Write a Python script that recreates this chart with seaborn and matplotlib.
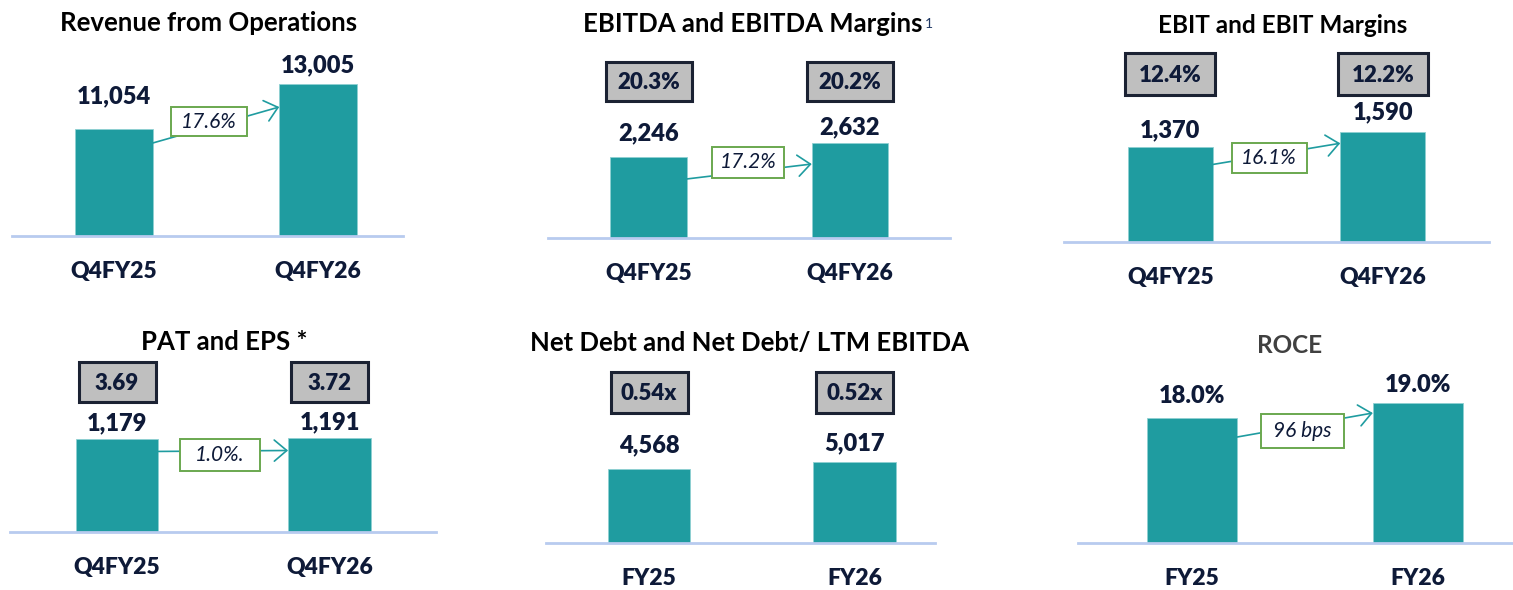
import matplotlib
matplotlib.use('Agg')
import matplotlib.pyplot as plt
import matplotlib.patches as mpatches
import seaborn as sns
import pandas as pd

# ---- data ----
periods_q = ['Q4FY25', 'Q4FY26']
periods_fy = ['FY25', 'FY26']

revenue = [11054, 13005]
revenue_growth = '17.6%'

ebitda = [2246, 2632]
ebitda_margin = ['20.3%', '20.2%']
ebitda_growth = '17.2%'

ebit = [1370, 1590]
ebit_margin = ['12.4%', '12.2%']
ebit_growth = '16.1%'

pat = [1179, 1191]
eps = ['3.69', '3.72']
pat_growth = '1.0%.'

net_debt = [4568, 5017]
net_debt_ratio = ['0.54x', '0.52x']

roce = [18.0, 19.0]
roce_growth = '96 bps'

# ---- style ----
TEAL = '#1F9CA0'
AXIS = '#B8CBEF'
NAVY = '#0E1A38'
GREEN = '#6AA84F'
BOXGREY = '#BFBFBF'
W, H = 1513, 590
PT = 72 / 100  # pixels -> points

sns.set_theme(style='white')
plt.rcParams['font.family'] = ['Lato', 'DejaVu Sans']

fig = plt.figure(figsize=(W / 100, H / 100), dpi=100)


def fig_text(x, y, s, **kw):
    # x, y in pixels measured from the top-left corner
    return fig.text(x / W, 1 - y / H, s, **kw)


def fig_rect(cx, cy, w, h, **kw):
    r = mpatches.Rectangle(((cx - w / 2) / W, 1 - (cy + h / 2) / H), w / W, h / H,
                           transform=fig.transFigure, **kw)
    fig.add_artist(r)


def panel(cats, vals, labels, title, title_xy, box, centers, bar_w, ylim, ticks, gaps,
          tops=None, top_y=None, top_wh=None, growth=None, arrow_dy=None,
          gbox_off=(0, 0), gbox_wh=(76, 30), title_color='black', title_size=18.5):
    l, r, base, top = box
    ax = fig.add_axes([l / W, 1 - base / H, (r - l) / W, (base - top) / H])
    df = pd.DataFrame({'period': cats, 'value': vals})
    sns.barplot(data=df, x='period', y='value', color=TEAL, saturation=1, width=bar_w,
                edgecolor='#8FD0D2', linewidth=0.6, ax=ax)
    c0, c1 = centers
    ax.set_xlim((l - c0) / (c1 - c0), (r - c0) / (c1 - c0))
    ax.set_ylim(*ylim)
    ax.set_xlabel('')
    ax.set_ylabel('')
    ax.set_yticks([])
    for s in ['left', 'right', 'top']:
        ax.spines[s].set_visible(False)
    ax.spines['bottom'].set_color(AXIS)
    ax.spines['bottom'].set_linewidth(2)
    ax.set_xticks([0, 1])
    ax.set_xticklabels(cats, fontsize=16.5, fontweight='heavy', color=NAVY)
    ax.tick_params(axis='x', which='major', length=0, pad=18)
    ax.set_xticks(ticks, minor=True)
    ax.tick_params(axis='x', which='minor', length=6, width=2, color=AXIS, direction='out')
    ax.patch.set_alpha(0)

    bars = ax.patches[:2]
    # value labels on top of bars
    for p, lab, g in zip(bars, labels, gaps):
        ax.annotate(lab, (p.get_x() + p.get_width() / 2, p.get_height()),
                    xytext=(0, g * PT), textcoords='offset points', ha='center',
                    va='baseline', fontsize=17, fontweight='heavy', color=NAVY)

    # grey boxes (margins / EPS / leverage)
    if tops is not None:
        for p, t in zip(bars, tops):
            cx = ax.transData.transform((p.get_x() + p.get_width() / 2, 0))[0]
            fig_rect(cx, top_y, top_wh[0], top_wh[1], facecolor=BOXGREY,
                     edgecolor='#1B2233', linewidth=2.2, zorder=3)
            fig_text(cx, top_y + 1, t, ha='center', va='center', fontsize=16,
                     fontweight='heavy', color=NAVY, zorder=4)

    # growth arrow with boxed label
    if growth is not None:
        p0, p1 = bars
        xa, ya = ax.transData.transform((p0.get_x() + p0.get_width(), p0.get_height()))
        xb, yb = ax.transData.transform((p1.get_x(), p1.get_height()))
        ya -= arrow_dy[0]
        yb -= arrow_dy[1]
        arr = mpatches.FancyArrowPatch((xa / W, ya / H), (xb / W, yb / H),
                                       transform=fig.transFigure,
                                       arrowstyle='->,head_length=0.45,head_width=0.38',
                                       mutation_scale=20, color=TEAL, lw=1.2,
                                       shrinkA=0, shrinkB=0, zorder=3)
        fig.add_artist(arr)
        mx = (xa + xb) / 2 + gbox_off[0]
        my = H - (ya + yb) / 2 + gbox_off[1]
        fig_rect(mx, my, gbox_wh[0], gbox_wh[1], facecolor='white', edgecolor=GREEN,
                 linewidth=1.4, zorder=4)
        fig_text(mx, my, growth, ha='center', va='center', fontsize=15, style='italic',
                 color=NAVY, zorder=5)

    t = fig_text(title_xy[0], title_xy[1], title, ha='center', va='baseline',
                 fontsize=title_size, fontweight='bold', color=title_color)
    return ax, t


fmt = lambda v: f'{v:,}'

panel(periods_q, revenue, [fmt(v) for v in revenue], 'Revenue from Operations', (209, 31),
      (12, 403, 236, 0), (114, 318), 0.38, (6416, 16646), [-0.5, 0.5], [26, 12],
      growth=revenue_growth, arrow_dy=(14, 23), gbox_off=(-7, -3), gbox_wh=(76, 29))

_, t2 = panel(periods_q, ebitda, [fmt(v) for v in ebitda], 'EBITDA and EBITDA Margins',
              (753, 32), (548, 950, 238, 0), (648.5, 850), 0.38, (0, 6596), [], [17, 9],
              tops=ebitda_margin, top_y=81.5, top_wh=(86, 39),
              growth=ebitda_growth, arrow_dy=(22, 21), gbox_off=(-1.5, -9), gbox_wh=(72, 31))
# footnote marker after the EBITDA title
bb = t2.get_window_extent(fig.canvas.get_renderer())
fig_text(bb.x1 + 2, 28, '1', ha='left', va='baseline', fontsize=10, color='#1F3864')

panel(periods_q, ebit, [fmt(v) for v in ebit], 'EBIT and EBIT Margins', (1283, 33),
      (1064, 1489, 242, 0), (1170.5, 1383.5), 0.40, (0, 3507), [-0.5, 0.5, 1.5], [10, 13],
      tops=ebit_margin, top_y=74, top_wh=(90, 41),
      growth=ebit_growth, arrow_dy=(17, 11), gbox_off=(-7.5, 4), gbox_wh=(75, 30),
      title_size=17.5)

panel(periods_q, pat, [fmt(v) for v in pat], 'PAT and EPS *', (224, 350),
      (10, 436, 532, 300), (117, 329.5), 0.39, (0, 2955), [-0.5, 0.5, 1.5], [9, 9],
      tops=eps, top_y=382, top_wh=(77, 40),
      growth=pat_growth, arrow_dy=(12, 12), gbox_off=(-3.5, 4), gbox_wh=(80, 32))

panel(periods_fy, net_debt, [fmt(v) for v in net_debt], 'Net Debt and Net Debt/ LTM EBITDA',
      (750, 351), (546, 935, 543, 300), (649, 854.5), 0.40, (0, 15037), [], [17, 12],
      tops=net_debt_ratio, top_y=392, top_wh=(77, 41))

panel(periods_fy, roce, [f'{v:.1f}%' for v in roce], 'ROCE', (1290, 353),
      (1078, 1513, 543, 300), (1192, 1418), 0.40, (9.667, 25.867), [-0.5, 0.5], [15, 11],
      growth=roce_growth, arrow_dy=(19, 10), gbox_off=(-3, 6), gbox_wh=(83, 34),
      title_color='#404040', title_size=17.5)

fig.savefig('out.png', dpi=100, facecolor='white')
